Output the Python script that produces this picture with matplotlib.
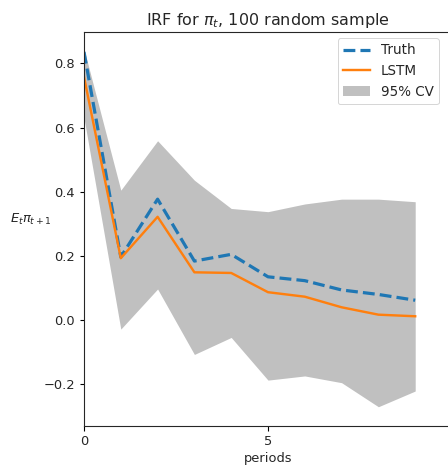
import matplotlib
matplotlib.use("Agg")
import matplotlib.pyplot as plt

# 資料
periods = list(range(10))
truth = [0.836, 0.197, 0.377, 0.184, 0.205, 0.135, 0.123, 0.094, 0.080, 0.062]
lstm = [0.758, 0.193, 0.322, 0.149, 0.147, 0.087, 0.073, 0.040, 0.017, 0.012]
cv_upper = [0.845, 0.405, 0.559, 0.436, 0.348, 0.338, 0.362, 0.377, 0.377, 0.369]
cv_lower = [0.630, -0.028, 0.097, -0.107, -0.054, -0.187, -0.174, -0.195, -0.270, -0.221]

fig = plt.figure(figsize=(448 / 72, 470 / 72), dpi=72)
# 右側框線落在畫布外（原圖被裁切）
ax = fig.add_axes([84 / 448, 44 / 470, 368 / 448, 394 / 470])

ax.fill_between(periods, cv_lower, cv_upper, color="silver", linewidth=0, label="95% CV")
ax.plot(periods, truth, color="tab:blue", linestyle="--", linewidth=3.2, label="Truth")
ax.plot(periods, lstm, color="tab:orange", linewidth=2.4, label="LSTM")

ax.set_xlim(0, 10)
ax.set_ylim(-0.33, 0.898)
ax.set_xticks([0, 5])
ax.set_yticks([-0.2, 0.0, 0.2, 0.4, 0.6, 0.8])
ax.tick_params(labelsize=13, length=4.5, width=1.1, pad=4.5, labelcolor="#262626")
for s in ax.spines.values():
    s.set_linewidth(1.1)
    s.set_color("#262626")

ax.set_title(r"IRF for $\pi_t$, 100 random sample", fontsize=16, pad=7, color="#262626")
ax.set_xlabel("periods", fontsize=13, labelpad=4, color="#262626")
ax.set_ylabel(r"$E_t\pi_{t+1}$", fontsize=13, rotation=0, va="center", ha="center", color="#262626")
ax.yaxis.set_label_coords(-0.144, 0.523)

handles, labels = ax.get_legend_handles_labels()
order = [1, 2, 0]
leg = ax.legend([handles[i] for i in order], [labels[i] for i in order],
                loc="upper right", bbox_to_anchor=(439 / 448, 1 - 38 / 470),
                bbox_transform=fig.transFigure, borderaxespad=0, fontsize=13.5)
for t in leg.get_texts():
    t.set_color("#262626")

fig.savefig("out.png", dpi=72)
